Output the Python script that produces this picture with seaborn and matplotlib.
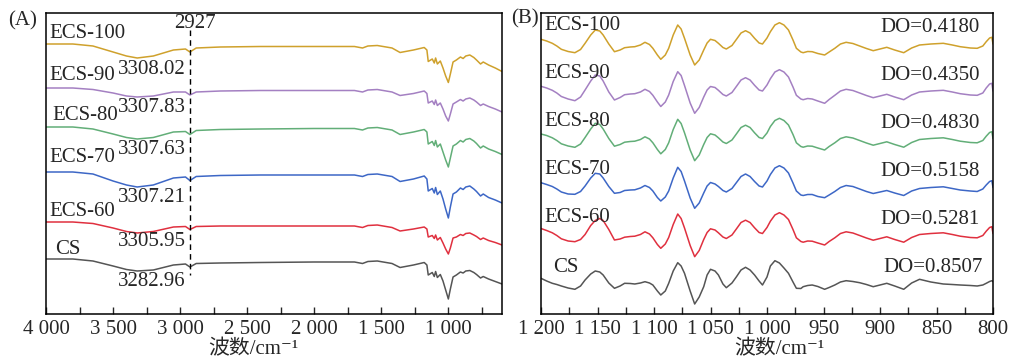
import numpy as np
import pandas as pd
import matplotlib
matplotlib.use("Agg")
import matplotlib.pyplot as plt
import seaborn as sns
from matplotlib.ticker import FixedLocator, MultipleLocator

# ---- data (y values are depth from the top of the frame) ----
names = ["ECS-100", "ECS-90", "ECS-80", "ECS-70", "ECS-60", "CS"]
colors = ["#CFA12C", "#A480C2", "#62AE78", "#3D67C6", "#E0303F", "#555555"]
peak_labels = ["3308.02", "3307.83", "3307.63", "3307.21", "3305.95", "3282.96"]
do_labels = ["DO=0.4180", "DO=0.4350", "DO=0.4830", "DO=0.5158", "DO=0.5281", "DO=0.8507"]
peak_wn = 2927

# panel A: full FTIR range
wn_a = [4000, 3800, 3650, 3500, 3400, 3320, 3200, 3050, 2960, 2927, 2880, 2700, 2400,
        2000, 1700, 1640, 1600, 1530, 1420, 1360, 1260, 1180, 1160, 1150, 1120, 1105,
        1095, 1082, 1060, 1040, 1020, 1000, 985, 965, 940, 910, 890, 870, 840, 810,
        790, 760, 740, 700, 650, 600]
ftir_ecs100 = [44, 44, 46, 52, 56, 58, 56, 50, 49, 52, 48, 47, 46.5, 46.5, 46.5, 48, 46,
               45.5, 48, 52.5, 50, 47.5, 50, 61.5, 59, 63, 58, 64, 61, 68, 76, 82.5, 74,
               62, 60, 57, 58.5, 56, 55, 57.5, 60, 64, 62, 65, 68, 71.5]
ftir_ecs90 = [88, 88, 89.5, 93, 96, 97, 96, 92, 92, 95, 92, 91, 90.5, 90.5, 90.5, 92, 90,
              89.5, 92, 95.5, 93.5, 91, 93.5, 103, 101, 104.5, 100, 105.5, 103, 109, 116,
              121, 114, 104, 102, 99.5, 101, 99, 98, 100, 102, 105.5, 104, 106.5, 109, 112]
ftir_ecs80 = [127, 127, 129, 134, 137.5, 139, 137.5, 132, 131.5, 134.5, 130.5, 129.5, 129,
              128.5, 128.5, 130, 128, 127.5, 130, 134.5, 132, 129.5, 132, 144, 141.5,
              145.5, 140.5, 147, 144, 152, 160, 167, 158, 146, 144, 140.5, 142, 139.5,
              138.5, 141, 143.5, 148, 146, 149, 151.5, 154.5]
ftir_ecs70 = [172, 172, 174, 181, 185, 187, 185, 178, 177, 180.5, 176.5, 175.5, 175, 175,
              175, 176.5, 174.5, 174, 176.5, 181.5, 179, 176, 179, 191, 188.5, 193, 187.5,
              194.5, 191, 199, 209, 218, 207, 194, 192, 188, 189.5, 187, 186, 189, 191.5,
              196, 194, 197.5, 200, 203]
ftir_ecs60 = [222, 222, 223.5, 228, 231.5, 233, 231.5, 227, 226.5, 229.5, 226.5, 226, 226,
              226, 226, 227.5, 225.5, 225, 227.5, 231, 229, 227, 229, 237, 235.5, 238.5,
              235, 240, 237.5, 243, 249, 254, 248, 238, 237, 234.5, 235.5, 233.5, 233,
              235, 236.5, 239.5, 238, 240.5, 242.5, 245]
ftir_cs = [259, 259, 261, 266, 269.5, 271, 270, 265, 264, 267, 263.5, 263, 262.5, 262, 262,
           263.5, 261.5, 261, 263.5, 267.5, 265, 262.5, 265, 275, 272.5, 276.5, 271.5,
           277.5, 274.5, 281, 290, 299, 289, 277, 275, 272, 273, 271, 270.5, 272.5, 274.5,
           278, 276.5, 279, 281.5, 284]

# panel B: 1200-800 cm-1 (deconvolved), each trace stacked by its own offset
wn_b = [1200, 1195, 1190, 1186, 1182, 1176, 1170, 1165, 1161, 1156, 1152, 1148, 1145,
        1140, 1135, 1130, 1126, 1121, 1117, 1112, 1108, 1104, 1101, 1097, 1094, 1090,
        1087, 1083, 1079, 1076, 1073, 1068, 1064, 1060, 1056, 1053, 1050, 1046, 1043,
        1039, 1036, 1031, 1027, 1023, 1019, 1015, 1011, 1007, 1004, 1000, 997, 993, 989,
        985, 981, 977, 974, 970, 968, 964, 960, 955, 949, 945, 940, 935, 930, 924, 918,
        912, 906, 900, 894, 887, 879, 872, 865, 855, 844, 836, 829, 820, 814, 809, 806,
        803, 801, 800]
offsets_b = [0, 47, 94.5, 143.5, 189.5, 239]
dec_ecs100 = [39.3, 41, 43.3, 46, 49.3, 51.5, 52.7, 49.5, 43.3, 35, 30, 31, 35, 44, 51.7,
              50, 47.7, 47, 46.7, 45, 42.3, 44.5, 48.3, 55, 59.3, 55, 48.3, 35, 25, 29,
              38.3, 55, 65, 60, 50, 43, 39.3, 40.5, 43.3, 47.5, 49, 45.5, 39.3, 33, 30.7,
              33, 38.3, 43, 44, 38, 31.7, 25, 22.7, 25, 30, 40, 48.3, 52, 52.7, 51.5,
              51.7, 53.5, 55, 52, 48.3, 44, 42.3, 43.5, 46, 48.5, 50.7, 49, 47.3, 50,
              52.7, 48, 45, 44, 43.3, 45, 46.7, 48, 48.3, 46, 41.7, 38, 37.3, 44]
dec_ecs90 = [39.3, 41, 43.3, 46, 49.5, 52, 53.7, 50, 43, 34, 28, 29, 34, 45, 53, 50.5,
             47.7, 47, 46.7, 45, 42.3, 44.5, 48.3, 55, 59.5, 55, 48, 34.5, 24.7, 28.5,
             38.5, 56, 66.3, 60.5, 50, 43, 39.5, 40.5, 43.3, 47.5, 49, 45.5, 39.3, 33,
             30.7, 33, 38.3, 43, 44, 38, 31.7, 25, 22.7, 25, 30, 40, 48.3, 52, 52.7, 51.5,
             52, 54, 56.3, 52.5, 48.3, 44, 42.3, 43.5, 46, 48.5, 50.7, 49, 47.3, 50, 52.7,
             48, 45, 44, 43.3, 45, 46.7, 48, 48.3, 46, 41, 37, 36.3, 44]
dec_ecs80 = [39.5, 41, 43.3, 46, 49.3, 51.5, 52.8, 49.5, 43, 34.5, 28.8, 30, 34.5, 44,
             51.7, 50, 47.7, 47, 46.7, 45, 42.3, 44.5, 48.3, 55, 59.3, 55, 48.3, 35, 24.8,
             29, 38.3, 55.5, 66.2, 60.5, 50, 43, 39.3, 40.5, 43.3, 47.5, 49, 45.5, 39.3,
             33, 30.7, 33, 38.3, 43, 44, 38.5, 32, 26, 23.8, 26, 30.5, 40, 48.3, 52, 52.7,
             51.5, 51.7, 53.5, 55.5, 52, 48.3, 44, 42.3, 43.5, 46, 48.5, 50.7, 49, 47.3,
             50, 52.7, 48, 45, 44, 43.3, 45, 46.7, 48, 48.3, 46, 41.7, 38, 37.2, 44]
dec_ecs70 = [39.2, 41, 43, 45.5, 48.5, 50.5, 50.8, 48, 42.5, 34.5, 29.8, 30.5, 34.5, 43,
             49.8, 49, 47, 46.5, 46.3, 44.5, 42, 44, 47.5, 54, 57.5, 53.5, 47.5, 34.5,
             23.8, 28, 37.5, 54.5, 64.8, 59.5, 49.5, 42.5, 39, 40.5, 43, 47, 48.5, 45, 39,
             33, 30.5, 33, 38, 42.5, 43.5, 37.5, 31, 24.5, 22.2, 24.5, 29.5, 39.5, 47.5,
             51.5, 52, 51, 51, 53, 54.2, 51.5, 48, 44, 42, 43, 45.5, 48, 50, 48.5, 47,
             49.5, 52, 47.5, 45, 44, 43.3, 45, 46.5, 47.5, 48, 45.5, 41.5, 38, 37.2, 44]
dec_ecs60 = [39, 41, 43.3, 46, 49.3, 51.5, 52.2, 50, 45, 36, 31, 29, 31, 40, 50.5, 49.5,
             47.7, 47, 46.7, 45, 42.3, 44.5, 48.3, 55, 58.8, 54.5, 48, 35, 24.5, 29, 38.5,
             56, 67.2, 61, 50, 43, 39.3, 40.5, 43.3, 47.5, 49, 45.5, 39.3, 33, 30.7, 33,
             38.3, 43, 44, 38, 31.7, 25.5, 23.2, 25.5, 30, 40, 48.3, 52, 52.7, 51.5, 51.7,
             53.5, 55.5, 52, 48.3, 44, 42.3, 43.5, 46, 48.5, 50.7, 49, 47.3, 50, 52.7, 48,
             45, 44, 43.3, 45, 46.7, 48, 48.3, 46, 41.7, 38, 37.2, 44]
dec_cs = [39.3, 42, 44.3, 45.5, 47, 49, 50.3, 47, 41, 35, 32, 33, 36, 44, 49.3, 47, 44.3,
          44.5, 45, 44, 42.7, 44, 46, 52, 56, 52, 44.3, 32, 23.7, 27, 34.3, 52, 65, 58,
          47.7, 36, 30.3, 32, 36, 45, 48.7, 44, 37.7, 31, 28.3, 31, 36, 42, 46, 38, 27,
          21.7, 24, 29, 34.3, 43, 49.3, 49.5, 47.7, 46.5, 46, 47.5, 50.3, 48.5, 46, 43,
          41.7, 42.5, 43.7, 45.5, 47.7, 46, 44.3, 47, 50.3, 44, 40.3, 43, 45, 45.5, 46,
          46.5, 47, 46, 44.3, 42.5, 41.7, 42.7]

ticks_a = [4000, 3500, 3000, 2500, 2000, 1500, 1000]
ticklabels_a = ["4 000", "3 500", "3 000", "2 500", "2 000", "1 500", "1 000"]
ticks_b = [1200, 1150, 1100, 1050, 1000, 950, 900, 850, 800]
ticklabels_b = ["1 200", "1 150", "1 100", "1 050", "1 000", "950", "900", "850", "800"]

ftir = [ftir_ecs100, ftir_ecs90, ftir_ecs80, ftir_ecs70, ftir_ecs60, ftir_cs]
dec = [dec_ecs100, dec_ecs90, dec_ecs80, dec_ecs70, dec_ecs60, dec_cs]

df_a = pd.concat([pd.DataFrame({"wn": wn_a, "val": v, "sample": n})
                  for n, v in zip(names, ftir)])
df_b = pd.concat([pd.DataFrame({"wn": wn_b, "val": np.array(v) + off, "sample": n})
                  for n, v, off in zip(names, dec, offsets_b)])

# ---- style ----
sns.set_style("ticks")
plt.rcParams["font.family"] = ["Liberation Serif", "Noto Sans CJK SC", "DejaVu Sans"]
fs = 15

fig = plt.figure(figsize=(10.09, 3.61), dpi=100)
W, H = 1009, 361
ax_a = fig.add_axes([46 / W, (H - 314) / H, 456 / W, 301 / H])
ax_b = fig.add_axes([541 / W, (H - 314) / H, 452 / W, 301 / H])

palette = dict(zip(names, colors))
sns.lineplot(data=df_a, x="wn", y="val", hue="sample", palette=palette, ax=ax_a,
             linewidth=1.1, legend=False, estimator=None)
sns.lineplot(data=df_b, x="wn", y="val", hue="sample", palette=palette, ax=ax_b,
             linewidth=1.1, legend=False, estimator=None)

for ax in (ax_a, ax_b):
    ax.set_ylim(314, 13)
    ax.set_yticks([])
    ax.set_ylabel("")
    for s in ax.spines.values():
        s.set_visible(True)
        s.set_linewidth(1.1)
        s.set_color("black")
    ax.tick_params(axis="x", which="both", direction="in", length=5, width=1,
                   labelsize=fs, pad=4, top=False)
    ax.set_xlabel("波数/cm⁻¹", fontsize=fs, labelpad=0)
    ax.xaxis.label.set_va("bottom")

ax_a.set_xlim(4000, 600)
ax_a.xaxis.set_major_locator(FixedLocator(ticks_a))
ax_a.set_xticklabels(ticklabels_a)
ax_a.xaxis.set_minor_locator(MultipleLocator(250))
ax_a.xaxis.set_label_coords(0.454, -0.150)

ax_b.set_xlim(1200, 800)
ax_b.xaxis.set_major_locator(FixedLocator(ticks_b))
ax_b.set_xticklabels(ticklabels_b)
ax_b.xaxis.set_minor_locator(MultipleLocator(25))
ax_b.xaxis.set_label_coords(0.527, -0.150)

# dashed marker for 2927 cm-1
ax_a.vlines(peak_wn, 30, 275, colors="black", linestyles=(0, (4, 3)), linewidth=1)
ax_a.text(2890, 24, str(peak_wn), fontsize=fs, ha="center", va="center")

# panel A labels
name_pos_a = [(3978, 33), (3978, 75), (3955, 115), (3978, 158), (3978, 212), (3933, 250)]
num_y_a = [70, 108, 150, 198, 242, 282]
for n, (x, y) in zip(names, name_pos_a):
    ax_a.text(x, y, n, fontsize=fs, ha="left", va="center")
for lab, y in zip(peak_labels, num_y_a):
    ax_a.text(2960, y, lab, fontsize=fs, ha="right", va="center")

# panel B labels
name_pos_b = [(1197.3, 25), (1197.3, 73), (1197.3, 122), (1197.3, 170), (1197.3, 218), (1189.4, 268)]
do_pos_b = [(811.5, 28), (811.5, 76), (811.5, 123), (811.5, 172), (811.5, 219), (808.8, 267)]
for n, (x, y) in zip(names, name_pos_b):
    ax_b.text(x, y, n, fontsize=fs, ha="left", va="center")
for lab, (x, y) in zip(do_labels, do_pos_b):
    ax_b.text(x, y, lab, fontsize=fs, ha="right", va="center")

fig.text(8 / W, 1 - 21 / H, "(A)", fontsize=fs, ha="left", va="center")
fig.text(511 / W, 1 - 19 / H, "(B)", fontsize=fs, ha="left", va="center")

fig.savefig("out.png", dpi=100)
